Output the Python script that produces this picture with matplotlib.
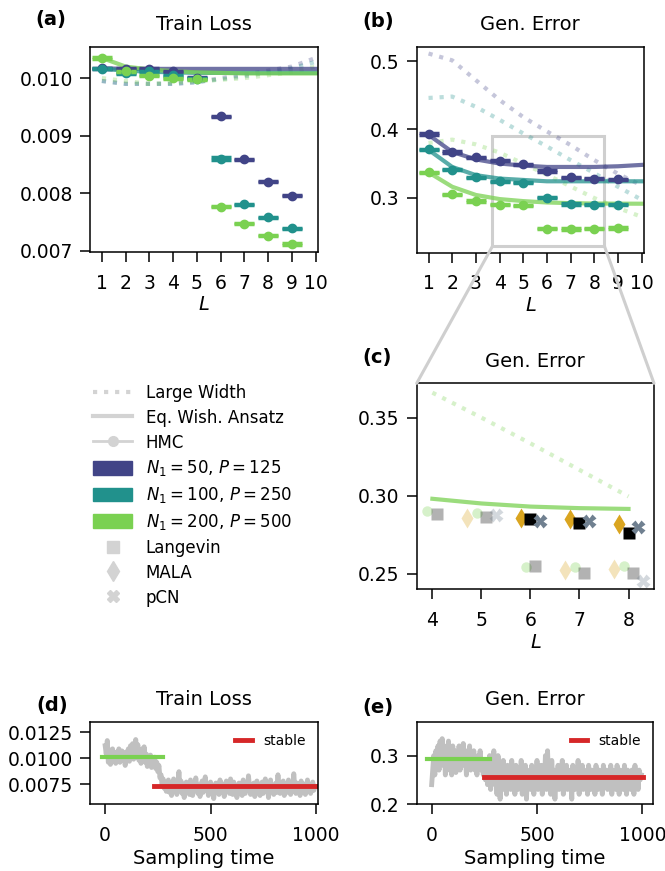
import numpy as np
import matplotlib.pyplot as plt
from matplotlib.lines import Line2D
from matplotlib.patches import Patch, Rectangle, ConnectionPatch

# depth values
L = np.arange(1, 11)
L_hmc = np.arange(1, 10)

# ---- train loss (a) ----
lw_loss = {
    50: [0.00995, 0.0099, 0.0099, 0.0099, 0.00993, 0.0100, 0.01006, 0.01013, 0.0102, 0.01035],
    100: [0.00995, 0.0099, 0.0099, 0.0099, 0.00993, 0.00998, 0.01003, 0.0101, 0.01017, 0.01028],
    200: [0.0100, 0.00995, 0.0099, 0.00992, 0.00995, 0.00997, 0.0100, 0.01005, 0.0101, 0.01020],
}
ewa_loss = {
    50: [0.01017, 0.01016, 0.01016, 0.01016, 0.01016, 0.01016, 0.01016, 0.01016, 0.01016, 0.01016],
    100: [0.01016, 0.01013, 0.01011, 0.0101, 0.01009, 0.01009, 0.01009, 0.01009, 0.01009, 0.01009],
    200: [0.01035, 0.0102, 0.01015, 0.01012, 0.0101, 0.01009, 0.01008, 0.01008, 0.01008, 0.01008],
}
hmc_loss = {
    50: [0.01017, 0.01016, 0.01016, 0.01012, 0.01001, 0.00934, 0.00859, 0.0082, 0.00796],
    100: [0.01016, 0.01008, 0.01012, 0.01005, 0.00999, 0.0086, 0.00781, 0.00758, 0.00739],
    200: [0.01035, 0.01012, 0.01004, 0.0100, 0.00998, 0.00777, 0.00747, 0.00726, 0.00712],
}
hmc_loss_err = {
    50: [0.00001] * 9,
    100: [0.00001, 0.00001, 0.00001, 0.00001, 0.00001, 0.00003, 0.00001, 0.00001, 0.00001],
    200: [0.00001] * 9,
}

# ---- gen error (b) ----
lw_gen = {
    50: [0.511, 0.501, 0.472, 0.443, 0.418, 0.397, 0.377, 0.355, 0.335, 0.318],
    100: [0.446, 0.448, 0.433, 0.414, 0.394, 0.375, 0.355, 0.336, 0.316, 0.297],
    200: [0.380, 0.385, 0.378, 0.366, 0.350, 0.3335, 0.3165, 0.2995, 0.285, 0.272],
}
ewa_gen = {
    50: [0.392, 0.367, 0.356, 0.350, 0.347, 0.345, 0.345, 0.345, 0.346, 0.348],
    100: [0.370, 0.345, 0.333, 0.328, 0.326, 0.324, 0.324, 0.324, 0.324, 0.324],
    200: [0.337, 0.316, 0.304, 0.298, 0.295, 0.293, 0.292, 0.2915, 0.2913, 0.2912],
}
hmc_gen = {
    50: [0.393, 0.367, 0.359, 0.354, 0.349, 0.339, 0.330, 0.328, 0.327],
    100: [0.371, 0.341, 0.330, 0.324, 0.322, 0.300, 0.291, 0.290, 0.290],
    200: [0.337, 0.305, 0.295, 0.290, 0.2887, 0.2545, 0.2541, 0.2549, 0.2556],
}
hmc_gen_err = [0.001] * 9

# ---- zoom (c), N1=200 only ----
hmc_c_L = [4, 5, 6, 7, 8]
hmc_c = [0.2902, 0.2887, 0.2545, 0.2541, 0.2549]
lang_light_L = [4, 5, 6, 7, 8]
lang_light = [0.288, 0.2865, 0.2549, 0.2506, 0.2506]
lang_stable_L = [6, 7, 8]
lang_stable = [0.2853, 0.2827, 0.2759]
mala_light_L = [5, 7, 8]
mala_light = [0.2855, 0.2523, 0.2528]
mala_stable_L = [6, 7, 8]
mala_stable = [0.2859, 0.2848, 0.2818]
pcn_light_L = [5, 8]
pcn_light = [0.2874, 0.2455]
pcn_stable_L = [6, 7, 8]
pcn_stable = [0.2838, 0.2838, 0.2797]

# ---- sampling traces (d), (e) ----
trace_loss = [
    11.2, 10.4, 11.7, 9.6, 10.8, 9.4, 10.2, 10.9, 9.7, 10.5, 9.5, 10.6, 10.0, 10.9, 9.6, 10.3, 10.7, 9.8, 10.4, 9.3,
    10.6, 10.1, 10.9, 9.7, 11.2, 10.3, 11.4, 9.9, 10.7, 11.8, 10.2, 11.3, 9.8, 10.6, 9.5, 10.9, 10.2, 11.1, 9.6, 10.4,
    9.2, 10.0, 9.5, 10.3, 9.1, 9.8, 9.4, 10.1, 9.0, 9.6,
    8.7, 9.3, 8.1, 8.4, 7.5, 8.0, 7.1, 7.6, 6.8, 7.4,
    7.9, 6.7, 7.5, 6.4, 7.2, 8.0, 6.9, 7.6, 6.5, 7.3,
    8.7, 7.0, 7.8, 6.6, 7.4, 6.2, 7.1, 7.7, 6.8, 7.5,
    6.5, 7.9, 7.0, 6.4, 7.6, 6.9, 8.1, 7.2, 6.6, 7.4,
    6.3, 7.0, 7.8, 6.7, 7.3, 8.2, 6.9, 7.5, 6.4, 7.1,
    7.7, 6.6, 7.4, 6.1, 7.0, 7.6, 6.8, 7.3, 6.5, 7.9,
    7.1, 6.7, 7.5, 6.3, 7.2, 7.8, 6.9, 7.4, 6.6, 8.0,
    7.0, 6.5, 7.7, 6.8, 7.3, 6.2, 7.1, 7.6, 6.7, 7.4,
    6.4, 7.9, 7.0, 6.6, 7.5, 6.9, 8.3, 7.2, 6.5, 7.3,
    6.8, 7.6, 6.3, 7.1, 7.8, 6.7, 7.4, 6.4, 7.0, 7.7,
    6.6, 7.3, 8.0, 6.9, 7.5, 6.2, 7.2, 7.9, 6.8, 7.4,
    6.5, 7.1, 7.6, 6.7, 8.4, 7.0, 6.6, 7.3, 6.9, 7.8,
    6.4, 7.5, 7.0, 6.7, 7.9, 7.2, 6.5, 7.4, 6.8, 8.5,
    7.1, 6.6, 7.6, 6.9, 7.3, 6.4, 7.8, 7.0, 6.7, 7.5,
    6.5, 7.2, 7.9, 6.8, 7.4, 6.6, 7.1, 7.7, 6.9, 7.3,
]
trace_gen = [
    0.24, 0.27, 0.30, 0.26, 0.31, 0.28, 0.32, 0.27, 0.33, 0.29, 0.335, 0.28, 0.32, 0.26, 0.31, 0.29, 0.33, 0.27, 0.30, 0.26,
    0.32, 0.28, 0.31, 0.265, 0.30, 0.28, 0.32, 0.27, 0.31, 0.29, 0.325, 0.28, 0.30, 0.26, 0.31, 0.29, 0.32, 0.27, 0.30, 0.28,
    0.31, 0.27, 0.29, 0.26, 0.30, 0.28, 0.31, 0.27, 0.29, 0.26,
    0.28, 0.25, 0.29, 0.24, 0.27, 0.30, 0.23, 0.28, 0.25, 0.31,
    0.24, 0.28, 0.22, 0.30, 0.25, 0.21, 0.27, 0.24, 0.29, 0.23,
    0.26, 0.22, 0.28, 0.25, 0.27, 0.23, 0.29, 0.24, 0.26, 0.22,
    0.28, 0.25, 0.23, 0.27, 0.24, 0.29, 0.22, 0.26, 0.25, 0.28,
    0.21, 0.27, 0.24, 0.26, 0.23, 0.28, 0.25, 0.22, 0.27, 0.24,
    0.29, 0.23, 0.26, 0.25, 0.28, 0.22, 0.27, 0.24, 0.30, 0.23,
    0.31, 0.25, 0.28, 0.22, 0.29, 0.24, 0.27, 0.21, 0.26, 0.25,
    0.28, 0.23, 0.27, 0.24, 0.29, 0.22, 0.26, 0.25, 0.28, 0.23,
    0.27, 0.24, 0.26, 0.21, 0.28, 0.25, 0.23, 0.27, 0.24, 0.29,
    0.22, 0.26, 0.25, 0.28, 0.23, 0.27, 0.24, 0.26, 0.22, 0.28,
    0.25, 0.23, 0.27, 0.24, 0.26, 0.22, 0.28, 0.25, 0.23, 0.27,
    0.24, 0.26, 0.22, 0.28, 0.25, 0.24, 0.27, 0.23, 0.26, 0.25,
    0.28, 0.22, 0.27, 0.24, 0.26, 0.23, 0.28, 0.25, 0.22, 0.27,
    0.24, 0.26, 0.23, 0.28, 0.25, 0.22, 0.27, 0.24, 0.26, 0.23,
    0.27, 0.25, 0.22, 0.28, 0.24, 0.26, 0.23, 0.27, 0.25, 0.26,
]
plateau_loss = 0.0101
stable_loss = 0.00731
plateau_gen = 0.2924
stable_gen = 0.255

widths = [50, 100, 200]
colors = {50: plt.cm.viridis(0.2), 100: plt.cm.viridis(0.5), 200: plt.cm.viridis(0.8)}
green = colors[200]

plt.rcParams.update({
    "font.size": 13.5,
    "axes.linewidth": 1.1,
    "xtick.major.size": 7,
    "ytick.major.size": 7,
    "xtick.major.width": 1.1,
    "ytick.major.width": 1.1,
    "xtick.major.pad": 8.5,
    "ytick.major.pad": 5.5,
    "xtick.labelsize": 13.5,
    "ytick.labelsize": 13.5,
    "axes.titlesize": 14,
    "axes.labelsize": 14,
})

W, H = 665, 871
fig = plt.figure(figsize=(W / 100, H / 100), dpi=100)


def add_ax(l, r, t, b):
    return fig.add_axes([l / W, 1 - b / H, (r - l) / W, (b - t) / H])


ax_a = add_ax(90, 318, 47, 252)
ax_b = add_ax(416.7, 644, 46.7, 252.7)
ax_c = add_ax(416.7, 654, 383.3, 589.3)
ax_d = add_ax(90, 318, 721.7, 804)
ax_e = add_ax(416.7, 653.3, 721.7, 804)


def draw_depth(ax, lw_vals, ewa_vals, hmc_vals, err):
    for n in widths:
        ax.plot(L, lw_vals[n], ls=":", lw=3, color=colors[n], alpha=0.3)
    for n in widths:
        ax.plot(L, ewa_vals[n], ls="-", lw=3, color=colors[n], alpha=0.75)
    for n in widths:
        e = err[n] if isinstance(err, dict) else err
        ax.errorbar(L_hmc, hmc_vals[n], yerr=e, fmt="o", ms=6, color=colors[n],
                    capsize=7.5, capthick=2.5, elinewidth=1.5)
    ax.set_xticks(L)
    ax.set_xlim(0.5, 10.1)
    ax.set_xlabel("$L$", labelpad=2)


draw_depth(ax_a, lw_loss, ewa_loss, hmc_loss, hmc_loss_err)
ax_a.set_ylim(0.00698, 0.01054)
ax_a.set_yticks([0.007, 0.008, 0.009, 0.010])
ax_a.set_yticklabels(["0.007", "0.008", "0.009", "0.010"])
ax_a.set_title("Train Loss", pad=12)

draw_depth(ax_b, lw_gen, ewa_gen, hmc_gen, hmc_gen_err)
ax_b.set_ylim(0.2195, 0.521)
ax_b.set_yticks([0.3, 0.4, 0.5])
ax_b.set_title("Gen. Error", pad=12)

# zoom panel (c)
ax_c.plot(L[3:8], lw_gen[200][3:8], ls=":", lw=3, color=green, alpha=0.3)
ax_c.plot(L[3:8], ewa_gen[200][3:8], ls="-", lw=3, color=green, alpha=0.75)
ax_c.plot(np.array(hmc_c_L) - 0.1, hmc_c, "o", ms=7.5, color=green, alpha=0.3, mec="none")
ax_c.plot(np.array(lang_light_L) + 0.1, lang_light, "s", ms=8, color="black", alpha=0.3, mec="none")
ax_c.plot(np.array(mala_light_L) - 0.3, mala_light, "d", ms=10, color="goldenrod", alpha=0.3, mec="none")
ax_c.plot(np.array(pcn_light_L) + 0.3, pcn_light, "X", ms=10, color="slategray", alpha=0.3, mec="none")
ax_c.plot(np.array(mala_stable_L) - 0.2, mala_stable, "d", ms=10, color="goldenrod", mec="none")
ax_c.plot(lang_stable_L, lang_stable, "s", ms=8, color="black", mec="none")
ax_c.plot(np.array(pcn_stable_L) + 0.2, pcn_stable, "X", ms=10, color="slategray", mec="none")
ax_c.set_xlim(3.68, 8.52)
ax_c.set_ylim(0.24, 0.372)
ax_c.set_xticks([4, 5, 6, 7, 8])
ax_c.set_yticks([0.25, 0.30, 0.35])
ax_c.set_xlabel("$L$", labelpad=2)
ax_c.set_title("Gen. Error", pad=12)

# inset indicator on (b)
box_color = "#cfcfcf"
x0, x1, y0, y1 = 3.7, 8.43, 0.229, 0.3906
ax_b.add_patch(Rectangle((x0, y0), x1 - x0, y1 - y0, fill=False, ec=box_color, lw=2.2, zorder=1))
for xb, xc in [(x0, 0), (x1, 1)]:
    con = ConnectionPatch(xyA=(xb, y0), coordsA=ax_b.transData, xyB=(xc, 1), coordsB=ax_c.transAxes,
                          color=box_color, lw=2.2)
    fig.add_artist(con)

# sampling traces
t_loss = np.linspace(0, 995, len(trace_loss))
t_gen = np.linspace(0, 995, len(trace_gen))
ax_d.plot(t_loss, np.array(trace_loss) * 1e-3, color="silver", lw=3.5)
ax_d.plot([-17, 275], [plateau_loss, plateau_loss], color=green, lw=3)
ax_d.plot([231, 1000], [stable_loss, stable_loss], color="tab:red", lw=3.5, label="stable")
ax_d.set_xlim(-72, 1010)
ax_d.set_ylim(0.00558, 0.01352)
ax_d.set_yticks([0.0075, 0.0100, 0.0125])
ax_d.set_yticklabels(["0.0075", "0.0100", "0.0125"])
ax_d.set_xticks([0, 500, 1000])
ax_d.set_xlabel("Sampling time", labelpad=3)
ax_d.set_title("Train Loss", pad=12)
ax_d.legend(loc="upper right", frameon=False, fontsize=10, handlelength=1.2)

ax_e.plot(t_gen, trace_gen, color="silver", lw=3.5)
ax_e.plot([-21, 276], [plateau_gen, plateau_gen], color=green, lw=3)
ax_e.plot([250, 1004], [stable_gen, stable_gen], color="tab:red", lw=3.5, label="stable")
ax_e.set_xlim(-71, 1052)
ax_e.set_ylim(0.2, 0.37)
ax_e.set_yticks([0.2, 0.3])
ax_e.set_xticks([0, 500, 1000])
ax_e.set_xlabel("Sampling time", labelpad=3)
ax_e.set_title("Gen. Error", pad=12)
ax_e.legend(loc="upper right", frameon=False, fontsize=10, handlelength=1.2)

# panel letters
for lab, (px, py) in zip(["(a)", "(b)", "(c)", "(d)", "(e)"],
                         [(51, 20), (378, 21), (377, 357), (52, 705), (378, 707)]):
    fig.text(px / W, 1 - py / H, lab, fontsize=14, fontweight="bold", ha="center", va="center")

# shared legend
lg = "lightgray"
handles = [
    Line2D([], [], ls=":", lw=3, color=lg),
    Line2D([], [], ls="-", lw=3, color=lg),
    Line2D([], [], ls="-", lw=2, color=lg, marker="o", ms=7),
    Patch(color=colors[50]),
    Patch(color=colors[100]),
    Patch(color=colors[200]),
    Line2D([], [], ls="none", marker="s", ms=8, color=lg),
    Line2D([], [], ls="none", marker="d", ms=10, color=lg),
    Line2D([], [], ls="none", marker="X", ms=9, color=lg),
]
labels = ["Large Width", "Eq. Wish. Ansatz", "HMC",
          "$N_1=50$, $P=125$", "$N_1=100$, $P=250$", "$N_1=200$, $P=500$",
          "Langevin", "MALA", "pCN"]
fig.legend(handles, labels, loc="upper left", bbox_to_anchor=(78 / W, 1 - 369 / H),
           frameon=False, fontsize=12, handlelength=2.35, handleheight=0.9,
           handletextpad=0.8, labelspacing=0.41)

fig.savefig("out.png", dpi=100)
